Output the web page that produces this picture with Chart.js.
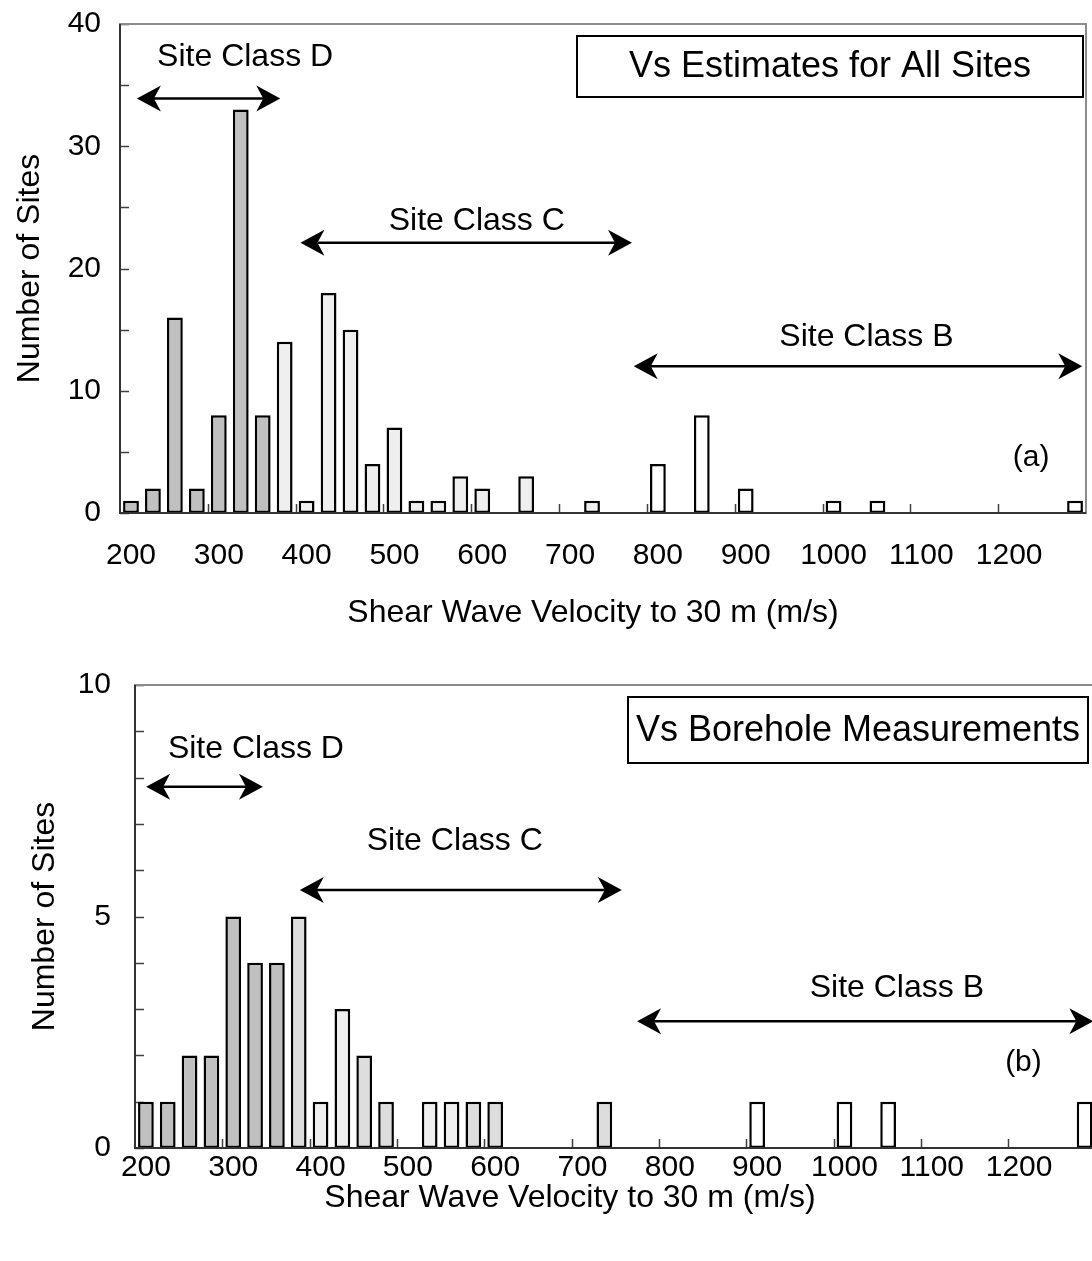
<!DOCTYPE html>
<html lang="en">
  <head>
    <meta charset="UTF-8" />
    <title>Shear Wave Velocity Histograms</title>
    <style>
      body {
        margin: 0;
        padding: 0;
        background-color: #fff;
        width: 1092px;
        height: 1261px;
        overflow: hidden;
        position: relative;
      }
      #allSitesChart {
        position: absolute;
        left: 0;
        top: 0;
      }
      #boreholeChart {
        position: absolute;
        left: 0;
        top: 650px;
      }
    </style>
  </head>
  <body>
    <canvas id="allSitesChart" width="1092" height="650"></canvas>
    <canvas id="boreholeChart" width="1100" height="611"></canvas>

    <script src="https://cdn.jsdelivr.net/npm/chart.js"></script>
    <script>
      // velocity bins (m/s), 25 m/s wide
      const binLabels = [
        "200", "225", "250", "275", "300", "325", "350", "375", "400", "425", "450",
        "475", "500", "525", "550", "575", "600", "625", "650", "675", "700", "725",
        "750", "775", "800", "825", "850", "875", "900", "925", "950", "975", "1000",
        "1025", "1050", "1075", "1100", "1125", "1150", "1175", "1200", "1225", "1250", "1275",
      ];
      const tickLabels = ["200", "300", "400", "500", "600", "700", "800", "900", "1000", "1100", "1200"];

      // (a) Vs estimates for all sites
      const allSitesCounts = [
        1, 2, 16, 2, 8, 33, 8, 14, 1, 18, 15, 4, 7, 1, 1, 3, 2, 0, 3, 0, 0, 1,
        0, 0, 4, 0, 8, 0, 2, 0, 0, 0, 1, 0, 1, 0, 0, 0, 0, 0, 0, 0, 0, 1,
      ];
      // (b) Vs borehole measurements
      const boreholeCounts = [
        1, 1, 2, 2, 5, 4, 4, 5, 1, 3, 2, 1, 0, 1, 1, 1, 1, 0, 0, 0, 0, 1,
        0, 0, 0, 0, 0, 0, 1, 0, 0, 0, 1, 0, 1, 0, 0, 0, 0, 0, 0, 0, 0, 1,
      ];

      const FONT = '"Liberation Sans", Arial, sans-serif';
      Chart.defaults.font.family = FONT;
      Chart.defaults.color = "#000";

      // bins in panel (b) that are shaded a little darker
      const darkerShadeBins = ["375", "450", "475", "575", "600", "725"];

      function classColor(label, shaded) {
        const v = Number(label);
        if (v < 375) return "#c0c0c0"; // class D
        if (v < 750) return shaded && darkerShadeBins.includes(label) ? "#dddddd" : "#efefef"; // class C
        return "#ffffff"; // class B
      }

      function drawArrow(ctx, x1, x2, y) {
        const L = 24, W = 13, N = 17;
        ctx.beginPath();
        ctx.moveTo(x1 + N, y);
        ctx.lineTo(x2 - N, y);
        ctx.stroke();
        ctx.beginPath();
        ctx.moveTo(x1, y);
        ctx.lineTo(x1 + L, y - W);
        ctx.lineTo(x1 + N, y);
        ctx.lineTo(x1 + L, y + W);
        ctx.closePath();
        ctx.moveTo(x2, y);
        ctx.lineTo(x2 - L, y - W);
        ctx.lineTo(x2 - N, y);
        ctx.lineTo(x2 - L, y + W);
        ctx.closePath();
        ctx.fill();
      }

      function makeNotes(cfg) {
        return {
          id: "notes",
          beforeDatasetsDraw(chart) {
            const { ctx, chartArea: a, scales } = chart;
            const x = scales.x, y = scales.y;
            ctx.save();
            ctx.strokeStyle = "#404040";
            ctx.lineWidth = 1.5;
            ctx.beginPath();
            for (let v = y.min; v <= y.max; v += cfg.minorStep) {
              const py = Math.round(y.getPixelForValue(v)) + 0.5;
              ctx.moveTo(a.left, py);
              ctx.lineTo(a.left + 9, py);
            }
            for (let i = 4; i < binLabels.length; i += 4) {
              const px = Math.round(x.getPixelForValue(i - 0.5)) + 0.5;
              ctx.moveTo(px, a.bottom);
              ctx.lineTo(px, a.bottom - 9);
            }
            ctx.stroke();
            ctx.restore();
          },
          afterDraw(chart) {
            const { ctx, chartArea: a, scales } = chart;
            const x = scales.x, y = scales.y;
            ctx.save();
            // plot frame and axes
            ctx.strokeStyle = "#8c8c8c";
            ctx.lineWidth = 2;
            ctx.strokeRect(a.left, a.top, a.right - a.left, a.bottom - a.top);
            ctx.strokeStyle = "#333";
            ctx.beginPath();
            ctx.moveTo(a.left, a.top);
            ctx.lineTo(a.left, a.bottom);
            ctx.lineTo(a.right, a.bottom);
            ctx.stroke();

            // site class arrows
            ctx.strokeStyle = "#000";
            ctx.fillStyle = "#000";
            ctx.lineWidth = 2.5;
            cfg.arrows.forEach((ar) => {
              drawArrow(ctx, x.getPixelForValue(ar.from), x.getPixelForValue(ar.to), y.getPixelForValue(ar.y));
            });

            // labels
            ctx.textAlign = "center";
            ctx.textBaseline = "middle";
            cfg.labels.forEach((lb) => {
              ctx.font = lb.size + "px " + FONT;
              ctx.fillText(lb.text, x.getPixelForValue(lb.x), y.getPixelForValue(lb.y));
            });

            // title box
            const b = cfg.box;
            ctx.fillStyle = "#fff";
            ctx.fillRect(b.left, b.top, b.right - b.left, b.height);
            ctx.strokeStyle = "#000";
            ctx.lineWidth = 2;
            ctx.strokeRect(b.left, b.top, b.right - b.left, b.height);
            ctx.fillStyle = "#000";
            ctx.font = "36px " + FONT;
            ctx.fillText(b.text, (b.left + b.right) / 2, b.top + b.height / 2 + 1);

            // x axis title
            ctx.font = "32px " + FONT;
            ctx.fillText(cfg.xTitle.text, cfg.xTitle.x, cfg.xTitle.y);
            ctx.restore();
          },
        };
      }

      function makeChart(id, counts, opt) {
        const ctx = document.getElementById(id).getContext("2d");
        return new Chart(ctx, {
          type: "bar",
          data: {
            labels: binLabels,
            datasets: [
              {
                data: counts,
                backgroundColor: binLabels.map((l) => classColor(l, opt.twoShades)),
                borderColor: "#000",
                borderWidth: 2.5,
                borderSkipped: false,
                barPercentage: 0.72,
                categoryPercentage: 1.0,
              },
            ],
          },
          options: {
            responsive: false,
            animation: false,
            events: [],
            layout: { padding: opt.padding },
            plugins: { legend: { display: false }, tooltip: { enabled: false } },
            scales: {
              x: {
                grid: { display: false, drawTicks: false },
                border: { display: false },
                ticks: {
                  autoSkip: false,
                  maxRotation: 0,
                  padding: opt.xPad,
                  font: { size: 30 },
                  callback: (v, i) => (tickLabels.includes(binLabels[i]) ? binLabels[i] : null),
                },
                afterFit: (s) => {
                  s.height = opt.xHeight;
                  s.paddingLeft = 0;
                  s.paddingRight = 0;
                },
              },
              y: {
                min: 0,
                max: opt.yMax,
                grid: { display: false, drawTicks: false },
                border: { display: false },
                ticks: { stepSize: opt.yStep, padding: opt.yPad, font: { size: 30 } },
                title: { display: true, text: "Number of Sites", font: { size: 32 }, padding: 0 },
                afterFit: (s) => {
                  s.width = opt.yWidth;
                  s.paddingTop = 0;
                  s.paddingBottom = 0;
                },
              },
            },
          },
          plugins: [makeNotes(opt.notes)],
        });
      }

      makeChart("allSitesChart", allSitesCounts, {
        padding: { left: 10.8, top: 24, right: 6, bottom: 0 },
        xHeight: 137,
        xPad: 25,
        yWidth: 109.2,
        yMax: 40,
        yStep: 10,
        yPad: 19,
        twoShades: false,
        notes: {
          minorStep: 5,
          arrows: [
            { from: 0.27, to: 6.8, y: 33.9 },
            { from: 7.72, to: 22.82, y: 22.1 },
            { from: 22.9, to: 43.33, y: 12.0 },
          ],
          labels: [
            { text: "Site Class D", x: 5.2, y: 37.3, size: 32 },
            { text: "Site Class C", x: 15.75, y: 23.9, size: 32 },
            { text: "Site Class B", x: 33.5, y: 14.4, size: 32 },
            { text: "(a)", x: 41.0, y: 4.5, size: 30 },
          ],
          box: { text: "Vs Estimates for All Sites", left: 577, right: 1083, top: 36, height: 61 },
          xTitle: { text: "Shear Wave Velocity to 30 m (m/s)", x: 593, y: 613 },
        },
      });

      makeChart("boreholeChart", boreholeCounts, {
        padding: { left: 25.8, top: 35, right: 4.5, bottom: 0 },
        xHeight: 113,
        xPad: 2,
        yWidth: 109.2,
        yMax: 10,
        yStep: 5,
        yPad: 24,
        twoShades: true,
        notes: {
          minorStep: 1,
          arrows: [
            { from: 0.01, to: 5.36, y: 7.8 },
            { from: 7.05, to: 21.8, y: 5.57 },
            { from: 22.5, to: 43.4, y: 2.74 },
          ],
          labels: [
            { text: "Site Class D", x: 5.04, y: 8.62, size: 32 },
            { text: "Site Class C", x: 14.15, y: 6.63, size: 32 },
            { text: "Site Class B", x: 34.4, y: 3.46, size: 32 },
            { text: "(b)", x: 40.2, y: 1.84, size: 30 },
          ],
          box: { text: "Vs Borehole Measurements", left: 628, right: 1088, top: 47, height: 66 },
          xTitle: { text: "Shear Wave Velocity to 30 m (m/s)", x: 570, y: 548 },
        },
      });
    </script>
  </body>
</html>
